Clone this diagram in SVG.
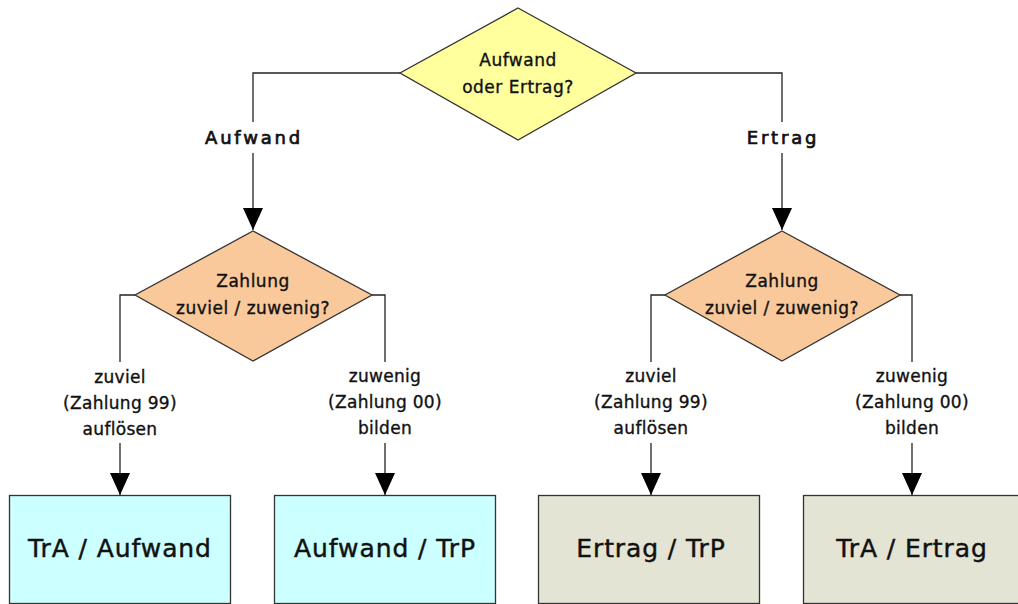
<svg xmlns="http://www.w3.org/2000/svg" width="1018" height="604" viewBox="0 0 1018 604">
<defs>
<style>
.t{font-family:"DejaVu Sans","Liberation Sans",sans-serif;fill:#111;stroke:#111;stroke-width:0.35px;text-anchor:middle}
.d{font-size:17px;letter-spacing:0.5px}
.l{font-size:17px;letter-spacing:0.3px}
.lb{font-size:18px;letter-spacing:2.8px;stroke-width:0.7px}
.b{font-size:25px;letter-spacing:0.9px;stroke-width:0.45px}
.sh{stroke:#333;stroke-width:1.3}
.c{fill:none;stroke:#222;stroke-width:1.3}
</style>
<marker id="ah" viewBox="0 0 22 20" refX="22" refY="10" markerWidth="22" markerHeight="20" markerUnits="userSpaceOnUse" orient="auto">
<path d="M0,0 L22,10 L0,20 Z" fill="#000"/>
</marker>
</defs>
<rect width="1018" height="604" fill="#fff"/>
<g id="connectors">
<polyline class="c" points="400,73 253,73 253,122"/>
<line class="c" x1="253" y1="153" x2="253" y2="230" marker-end="url(#ah)"/>
<polyline class="c" points="636,73 782,73 782,122"/>
<line class="c" x1="782" y1="153" x2="782" y2="230" marker-end="url(#ah)"/>
<polyline class="c" points="135,295 120,295 120,362"/>
<line class="c" x1="120" y1="443" x2="120" y2="495" marker-end="url(#ah)"/>
<polyline class="c" points="372,295 385,295 385,362"/>
<line class="c" x1="385" y1="443" x2="385" y2="495" marker-end="url(#ah)"/>
<polyline class="c" points="665,295 651,295 651,362"/>
<line class="c" x1="651" y1="443" x2="651" y2="495" marker-end="url(#ah)"/>
<polyline class="c" points="900,295 912,295 912,362"/>
<line class="c" x1="912" y1="443" x2="912" y2="495" marker-end="url(#ah)"/>
<text class="t lb" x="254" y="144">Aufwand</text>
<text class="t lb" x="783" y="144">Ertrag</text>
<text class="t l" x="120" y="383">zuviel</text>
<text class="t l" x="120" y="409">(Zahlung 99)</text>
<text class="t l" x="120" y="435">auflösen</text>
<text class="t l" x="385" y="382">zuwenig</text>
<text class="t l" x="385" y="408">(Zahlung 00)</text>
<text class="t l" x="385" y="434">bilden</text>
<text class="t l" x="651" y="382">zuviel</text>
<text class="t l" x="651" y="408">(Zahlung 99)</text>
<text class="t l" x="651" y="434">auflösen</text>
<text class="t l" x="912" y="382">zuwenig</text>
<text class="t l" x="912" y="408">(Zahlung 00)</text>
<text class="t l" x="912" y="434">bilden</text>
</g>
<g id="q1">
<polygon class="sh" points="518,8 636,73 518,140 400,73" fill="#FFFF9E"/>
<text class="t d" x="518" y="66">Aufwand</text>
<text class="t d" x="518" y="93">oder Ertrag?</text>
</g>
<g id="q2">
<polygon class="sh" points="253,231 372,295 253,361 135,295" fill="#F9C99B"/>
<text class="t d" x="253" y="287">Zahlung</text>
<text class="t d" x="253" y="314">zuviel / zuwenig?</text>
</g>
<g id="q3">
<polygon class="sh" points="782,231 900,295 782,361 665,295" fill="#F9C99B"/>
<text class="t d" x="782" y="287">Zahlung</text>
<text class="t d" x="782" y="314">zuviel / zuwenig?</text>
</g>
<g id="b1">
<rect class="sh" x="9.5" y="495.5" width="221" height="108" fill="#CCFFFF"/>
<text class="t b" x="120" y="557">TrA / Aufwand</text>
</g>
<g id="b2">
<rect class="sh" x="274.5" y="495.5" width="221" height="108" fill="#CCFFFF"/>
<text class="t b" x="385" y="557">Aufwand / TrP</text>
</g>
<g id="b3">
<rect class="sh" x="538.5" y="495.5" width="221" height="108" fill="#E4E4D4"/>
<text class="t b" x="651" y="557">Ertrag / TrP</text>
</g>
<g id="b4">
<rect class="sh" x="803.5" y="495.5" width="221" height="108" fill="#E4E4D4"/>
<text class="t b" x="912" y="557">TrA / Ertrag</text>
</g>
</svg>
